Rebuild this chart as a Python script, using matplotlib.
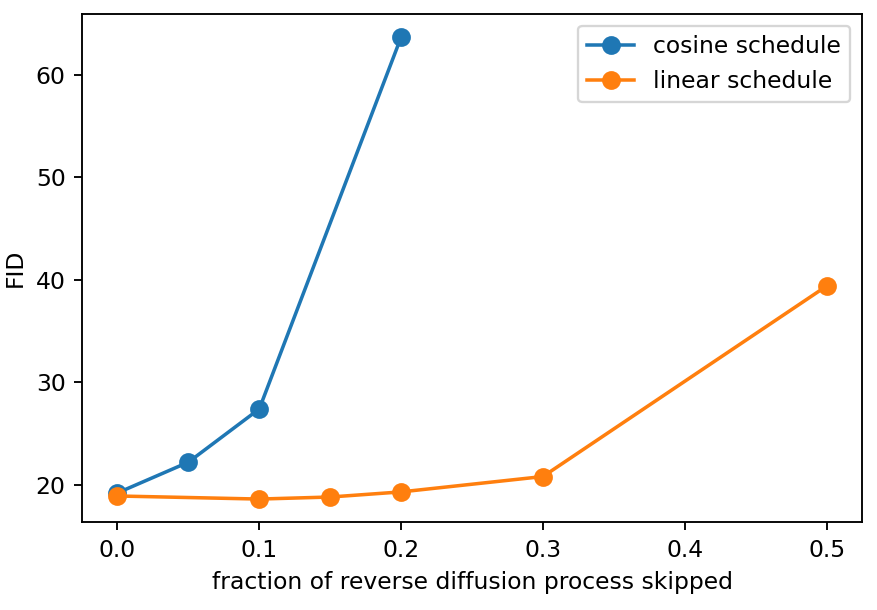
import matplotlib
matplotlib.use('Agg')
import matplotlib.pyplot as plt

cos_x = [0.0, 0.05, 0.1, 0.2]
cos_fid = [19.2, 22.2, 27.4, 63.7]
lin_x = [0.0, 0.1, 0.15, 0.2, 0.3, 0.5]
lin_fid = [18.9, 18.6, 18.8, 19.3, 20.8, 39.4]

dpi = 169
fig = plt.figure(figsize=(877 / dpi, 610 / dpi), dpi=dpi)
ax = fig.add_axes([0.0935, 0.144, 0.8895, 0.833])
ax.plot(cos_x, cos_fid, marker='o', markersize=7, label='cosine schedule')
ax.plot(lin_x, lin_fid, marker='o', markersize=7, label='linear schedule')
ax.set_xlabel('fraction of reverse diffusion process skipped')
ax.set_ylabel('FID')
ax.legend()
fig.savefig('out.png', dpi=dpi)
